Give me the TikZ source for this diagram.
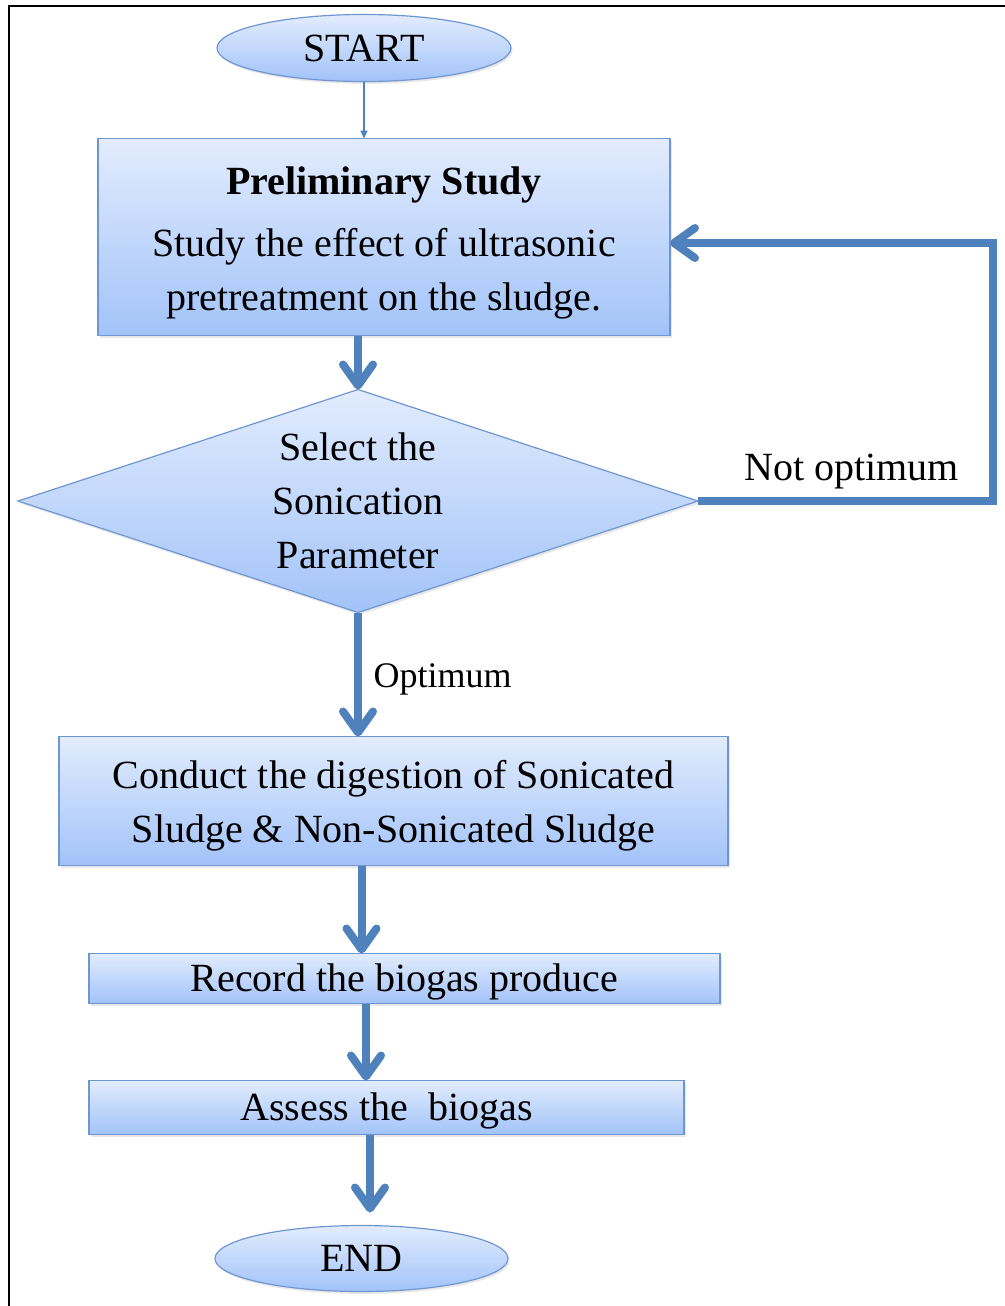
\documentclass[tikz,border=0pt]{standalone}
\usepackage{fontspec}
\setmainfont{Liberation Serif}
\usetikzlibrary{shapes.geometric, positioning, arrows.meta, shadows}
\definecolor{flowblue}{RGB}{79,129,189}
\definecolor{boxtop}{RGB}{226,236,253}
\definecolor{boxbot}{RGB}{162,195,249}
\definecolor{boxline}{RGB}{112,150,210}

\begin{document}
\begin{tikzpicture}[x=0.5pt, y=-0.5pt,
    font=\fontsize{20}{27}\selectfont,
    blockfill/.style={draw=boxline, line width=0.6pt, outer sep=0pt,
                      top color=boxtop, bottom color=boxbot,
                      drop shadow={opacity=0.18, shadow xshift=0.8pt, shadow yshift=-1.2pt}},
    term/.style={ellipse, blockfill, inner sep=0pt},
    procbox/.style={rectangle, blockfill, align=center, inner sep=0pt,
                    execute at begin node={\rule{0pt}{17.5pt}}},
    decision/.style={diamond, aspect=3, blockfill, align=center, inner sep=0pt},
    flow/.style={draw=flowblue, line width=4pt,
                 -{Straight Barb[length=10.5pt, width=15pt, round]}},
    thinflow/.style={draw=flowblue, line width=0.8pt,
                     -{Triangle[length=4pt, width=3.5pt]}}]

    \useasboundingbox (0,0) rectangle (1005,1306);
    % frame
    \draw[line width=1.2pt] (1005,6) -- (9,6) -- (9,1306);

    % Add the blocks
        \node[term,
              minimum width=147pt,
              minimum height=33.5pt] (start) at (364,48) {START};
        \node[procbox,
              below=28.5pt of start,
              xshift=10pt,
              minimum width=286pt,
              minimum height=98.5pt] (prelim)
              {\rule{0pt}{20pt}\textbf{Preliminary Study}\\[4pt]
               Study the effect of ultrasonic\\
               pretreatment on the sludge.};
        \node[decision,
              below=27pt of prelim,
              xshift=-13pt,
              minimum width=340pt,
              minimum height=111.5pt] (select)
              {Select the\\ Sonication\\ Parameter};
        \node[procbox,
              below=62pt of select,
              xshift=17.75pt,
              minimum width=334.5pt,
              minimum height=64.5pt] (digest)
              {\rule{0pt}{19pt}Conduct the digestion of Sonicated\\
               Sludge \& Non-Sonicated Sludge};
        \node[procbox,
              below=44pt of digest,
              xshift=5.5pt,
              minimum width=315.5pt,
              minimum height=25pt] (record) {Record the biogas produce};
        \node[procbox,
              below=38.5pt of record,
              xshift=-9pt,
              minimum width=297.5pt,
              minimum height=27pt] (assess) {Assess the \ biogas};
        \node[term,
              below=45.5pt of assess,
              xshift=-12.5pt,
              minimum width=146.5pt,
              minimum height=33pt] (end) {END};

    \coordinate (back) at (993,243);

    \draw[thinflow] (start.south) -- (start.south |- prelim.north);
    \draw[flow] (prelim.south -| select.north) -- (select.north);
    \draw[flow] (select.south) -- node[right, xshift=2.5pt, yshift=-2.5pt,
                                      font=\fontsize{18}{22}\selectfont] {Optimum}
                (select.south |- digest.north);
    \draw[flow] (select.east) -| node[pos=0.26, above=0.5pt] {Not optimum}
                (back) -- (back -| prelim.east);
    \draw[flow] (digest.south -| end.north) -- (record.north -| end.north);
    \draw[flow] ([xshift=-19.25pt]record.south) -- ([xshift=-19.25pt]record.south |- assess.north);
    \draw[flow, shorten >=6.5pt] ([xshift=-8.25pt]assess.south) -- ([xshift=-8.25pt]assess.south |- end.north);

    \end{tikzpicture}
\end{document}
